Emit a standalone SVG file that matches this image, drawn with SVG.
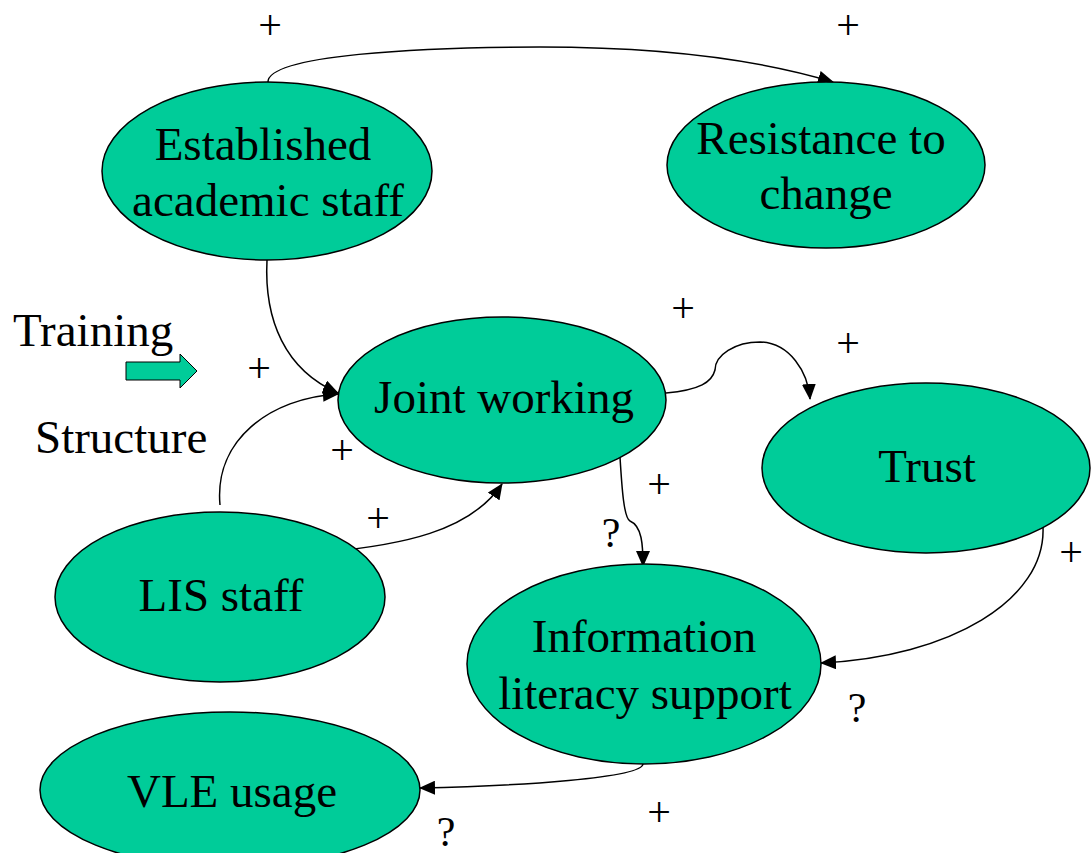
<svg xmlns="http://www.w3.org/2000/svg" width="1091" height="853" viewBox="0 0 1091 853">
<style>
.n{fill:#00CC99;stroke:#000;stroke-width:1.5}
.t{font-family:"Liberation Serif","Times New Roman",serif;font-size:47px;fill:#000;text-anchor:middle}
.s{font-family:"Liberation Serif","Times New Roman",serif;font-size:47px;fill:#000}
.c{fill:none;stroke:#000;stroke-width:1.5}
</style>
<defs>
<marker id="ah" markerUnits="userSpaceOnUse" markerWidth="16" markerHeight="14" refX="15" refY="7" orient="auto">
<path d="M0,0 L16,7 L0,14 Z" fill="#000"/>
</marker>
</defs>
<rect width="1091" height="853" fill="#fff"/>
<g id="connectors">
<path class="c" d="M268,82 C268,55 420,47 540,47 C660,47 760,60 833,82" marker-end="url(#ah)"/>
<path class="c" d="M267,260 C264,320 285,370 338,393" marker-end="url(#ah)"/>
<path class="c" d="M220,505 C214,440 270,398 338,394" marker-end="url(#ah)"/>
<path class="c" d="M327,552 C400,545 470,532 502,484" marker-end="url(#ah)"/>
<path class="c" d="M666,393 C700,390 712,382 715,370 C715,355 735,342 760,342 C790,343 808,372 810,399" marker-end="url(#ah)"/>
<path class="c" d="M620,457 C622,490 624,518 630,521 C642,526 643,545 643,566" marker-end="url(#ah)"/>
<path class="c" d="M1043,527 C1046,600 950,657 821,663" marker-end="url(#ah)"/>
<path class="c" d="M643,764 C642,778 520,786 420,788" marker-end="url(#ah)"/>
</g>
<g id="established">
<ellipse class="n" cx="267" cy="171" rx="165" ry="89"/>
<text class="t" x="263" y="160">Established</text>
<text class="t" x="268" y="216">academic staff</text>
</g>
<g id="resistance">
<ellipse class="n" cx="826" cy="165" rx="159" ry="83"/>
<text class="t" x="821" y="154">Resistance to</text>
<text class="t" x="826" y="209">change</text>
</g>
<g id="joint">
<ellipse class="n" cx="502" cy="400" rx="164" ry="83"/>
<text class="t" x="504" y="413">Joint working</text>
</g>
<g id="trust">
<ellipse class="n" cx="926" cy="468" rx="164" ry="85"/>
<text class="t" x="927" y="482">Trust</text>
</g>
<g id="lis">
<ellipse class="n" cx="220" cy="597" rx="165" ry="85"/>
<text class="t" x="221" y="611">LIS staff</text>
</g>
<g id="infolit">
<ellipse class="n" cx="644" cy="664" rx="177" ry="100"/>
<text class="t" x="644" y="652">Information</text>
<text class="t" x="645" y="709">literacy support</text>
</g>
<g id="vle">
<ellipse class="n" cx="230" cy="790" rx="190" ry="78"/>
<text class="t" x="232" y="807">VLE usage</text>
</g>
<g id="training">
<text class="s" x="13" y="346">Training</text>
<path d="M126,362 L180,362 L180,354 L197,371 L180,388 L180,380 L126,380 Z" fill="#00CC99" stroke="#000" stroke-width="1"/>
<text class="s" x="35" y="453">Structure</text>
</g>
<g id="labels" font-family="'Liberation Serif','Times New Roman',serif" font-size="42" text-anchor="middle">
<text x="270" y="39">+</text>
<text x="848" y="39">+</text>
<text x="683" y="322">+</text>
<text x="848" y="357">+</text>
<text x="259" y="382">+</text>
<text x="342" y="464">+</text>
<text x="378" y="532">+</text>
<text x="659" y="498">+</text>
<text x="1071" y="566">+</text>
<text x="659" y="826">+</text>
<text x="611" y="547">?</text>
<text x="857" y="722">?</text>
<text x="446" y="846">?</text>
</g>
</svg>
